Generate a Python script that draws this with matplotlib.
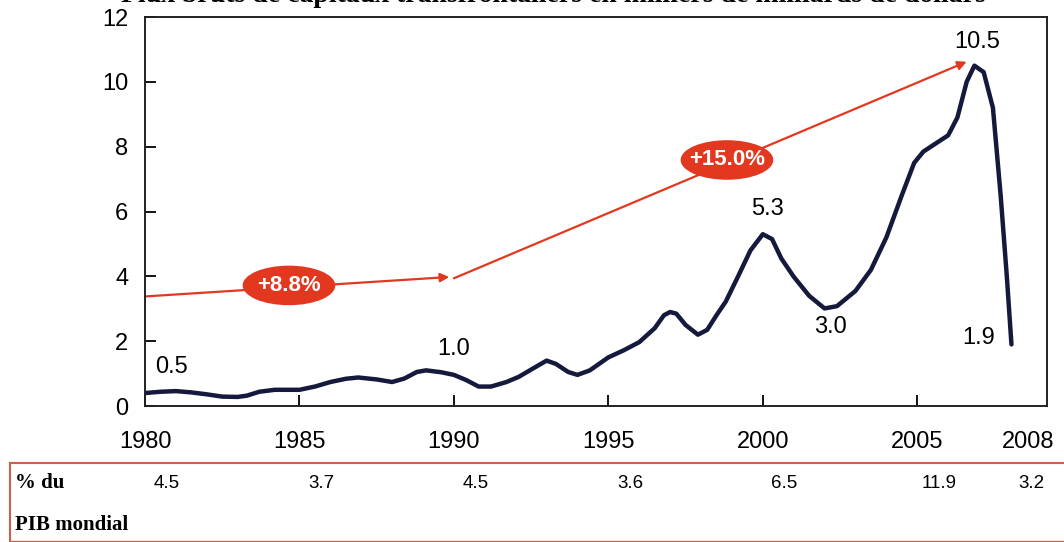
import matplotlib
matplotlib.use("Agg")
import matplotlib.pyplot as plt
from matplotlib.patches import Ellipse
from matplotlib.lines import Line2D
from matplotlib.transforms import blended_transform_factory

plt.rcParams["font.family"] = ["Liberation Sans", "DejaVu Sans"]

# Gross cross-border capital flows, trillions of dollars
years = [1980.0, 1980.5, 1981.0, 1981.5, 1982.0, 1982.5, 1983.0, 1983.3, 1983.7,
         1984.2, 1985.0, 1985.5, 1986.0, 1986.5, 1986.9, 1987.5, 1988.0, 1988.4,
         1988.8, 1989.1, 1989.6, 1990.0, 1990.4, 1990.8, 1991.2, 1991.7, 1992.1,
         1992.6, 1993.0, 1993.3, 1993.7, 1994.0, 1994.4, 1995.0, 1995.5, 1996.0,
         1996.5, 1996.8, 1997.0, 1997.2, 1997.5, 1997.9, 1998.2, 1998.5, 1998.8,
         1999.2, 1999.6, 2000.0, 2000.3, 2000.6, 2001.0, 2001.5, 2002.0, 2002.4,
         2003.0, 2003.5, 2004.0, 2004.5, 2004.9, 2005.2, 2005.6, 2006.0, 2006.3,
         2006.6, 2006.85, 2007.15, 2007.45, 2007.7, 2007.9, 2008.05]
flows = [0.40, 0.44, 0.46, 0.42, 0.36, 0.29, 0.28, 0.32, 0.44,
         0.50, 0.50, 0.60, 0.74, 0.84, 0.88, 0.82, 0.74, 0.85,
         1.05, 1.10, 1.04, 0.96, 0.80, 0.60, 0.60, 0.74, 0.90,
         1.18, 1.40, 1.30, 1.05, 0.96, 1.10, 1.50, 1.72, 1.97,
         2.40, 2.80, 2.90, 2.85, 2.50, 2.20, 2.35, 2.80, 3.22,
         4.00, 4.80, 5.30, 5.15, 4.55, 3.99, 3.40, 3.01, 3.08,
         3.55, 4.20, 5.20, 6.50, 7.50, 7.85, 8.10, 8.35, 8.90,
         10.00, 10.50, 10.30, 9.20, 6.50, 4.00, 1.90]

# labelled points: (year, value)
labelled = [(1981.0, 0.5), (1989.1, 1.0), (2000.0, 5.3),
            (2002.0, 3.0), (2006.85, 10.5), (2008.05, 1.9)]

# average annual growth over two periods
growth_labels = ["+8.8%", "+15.0%"]

# share of world GDP
gdp_years = [1980, 1985, 1990, 1995, 2000, 2005, 2008]
gdp_share = ["4.5", "3.7", "4.5", "3.6", "6.5", "11.9", "3.2"]

NAVY = "#151a3c"
RED = "#e2381f"

fig = plt.figure(figsize=(10.64, 5.42), dpi=100)
ax = fig.add_axes([0.1363, 0.2509, 0.8477, 0.7177])

ax.plot(years, flows, color=NAVY, lw=3.2, solid_capstyle="round",
        solid_joinstyle="round", zorder=3)

ax.set_xlim(1980, 2009.2)
ax.set_ylim(0, 12)
ax.set_xticks([1980, 1985, 1990, 1995, 2000, 2005])
ax.set_yticks(range(0, 13, 2))
ax.tick_params(axis="both", direction="in", length=8, width=1.3,
               labelsize=17, colors="black")
ax.tick_params(axis="x", pad=18)
ax.tick_params(axis="y", pad=12)
for s in ax.spines.values():
    s.set_linewidth(1.4)
    s.set_color("#222222")
ax.text(2008.6, -0.78, "2008", ha="center", va="top", fontsize=17)

# (dx, dy, va) for each value label
offsets = {1981.0: (-0.13, 0.36, "bottom"), 1989.1: (0.9, 0.42, "bottom"),
           2000.0: (0.16, 0.45, "bottom"), 2002.0: (0.2, -0.22, "top"),
           2006.85: (0.1, 0.38, "bottom"), 2008.05: (-1.05, 0.2, "center")}
for x, v in labelled:
    dx, dy, va = offsets[x]
    ax.text(x + dx, v + dy, f"{v:.1f}", ha="center", va=va, fontsize=17)

# growth arrows with red badges
arrows = [((1980.0, 3.38), (1989.85, 3.98)), ((1990.0, 3.94), (2006.6, 10.62))]
badges = [(1984.66, 3.72), (1998.84, 7.59)]
for (start, end), (bx, by), lab in zip(arrows, badges, growth_labels):
    ax.annotate("", xy=end, xytext=start,
                arrowprops=dict(arrowstyle="-|>", color=RED, lw=1.6,
                                mutation_scale=13, shrinkA=0, shrinkB=0),
                zorder=2)
    ax.add_patch(Ellipse((bx, by), 3.0, 1.22, facecolor=RED, edgecolor="none",
                         zorder=4))
    ax.text(bx, by, lab, ha="center", va="center", color="white",
            fontsize=16, fontweight="bold", zorder=5)

# title (top of the page, mostly above the visible area)
fig.text(0.52, 1 - 1.5 / 542,
         "Flux bruts de capitaux transfrontaliers en milliers de milliards de dollars",
         ha="center", va="baseline", fontsize=20, fontweight="bold",
         family="Liberation Serif")

# GDP share row below the chart
frame = "#c8634a"
fig.add_artist(Line2D([10 / 1064, 1], [1 - 463 / 542] * 2, color=frame, lw=1.5))
fig.add_artist(Line2D([10 / 1064] * 2, [1 - 463 / 542, 0], color=frame, lw=1.5))
fig.add_artist(Line2D([10 / 1064, 1], [1 / 542] * 2, color=frame, lw=1.0))
fig.text(15 / 1064, 1 - 483 / 542, "% du", ha="left", va="center", fontsize=15,
         fontweight="bold", family="Liberation Serif")
fig.text(15 / 1064, 1 - 525 / 542, "PIB mondial", ha="left", va="center",
         fontsize=15, fontweight="bold", family="Liberation Serif")
trans = blended_transform_factory(ax.transData, fig.transFigure)
for yr, share in zip(gdp_years, gdp_share):
    ax.text(yr + 0.7, 1 - 484 / 542, share, transform=trans, ha="center",
            va="center", fontsize=13.5, clip_on=False)

fig.savefig("out.png", dpi=100)
